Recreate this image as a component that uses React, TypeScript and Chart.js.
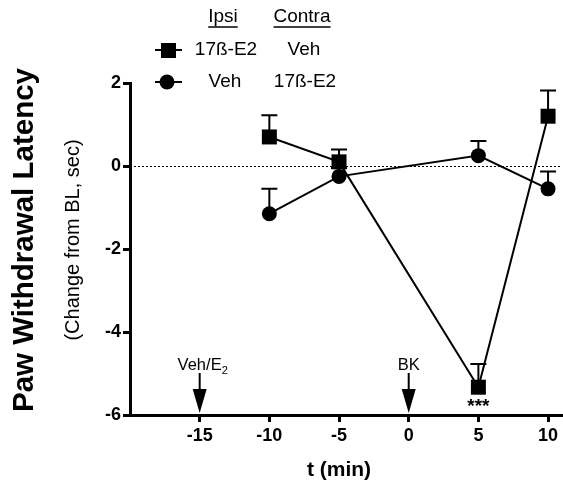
import React, { useEffect, useRef } from "react";
import { Chart, registerables } from "chart.js";

Chart.register(...registerables);

// ---- data ----
const xTickValues = [-15, -10, -5, 0, 5, 10];
const timePoints = [-10, -5, 5, 10];
const e2IpsiMean = [0.7, 0.1, -5.33, 1.2];
const e2IpsiSem = [0.52, 0.3, 0.56, 0.62];
const vehIpsiMean = [-1.15, -0.25, 0.25, -0.55];
const vehIpsiSem = [0.6, 0.2, 0.35, 0.42];
const arrowTimes = [-15, 0];
const arrowLabels = ["Veh/E", "BK"];
const arrowSubs = ["2", ""];
const sigTime = 5;
const sigLabel = "***";

const FONT = "'Liberation Sans', Arial, Helvetica, sans-serif";

const overlay = {
  id: "overlay",
  beforeDatasetsDraw(chart: any) {
    const { ctx, chartArea, scales } = chart;
    const y = scales.y;
    ctx.save();
    ctx.strokeStyle = "#000";
    // dotted zero line
    ctx.setLineDash([2, 2]);
    ctx.lineWidth = 1;
    const y0 = Math.round(y.getPixelForValue(0)) + 0.5;
    ctx.beginPath();
    ctx.moveTo(chartArea.left, y0);
    ctx.lineTo(chartArea.right, y0);
    ctx.stroke();
    ctx.setLineDash([]);
    // error bars (upward only)
    ctx.lineWidth = 2;
    chart.data.datasets.forEach((ds: any, di: number) => {
      const meta = chart.getDatasetMeta(di);
      meta.data.forEach((pt: any, i: number) => {
        const top = y.getPixelForValue(ds.data[i].y + ds.errors[i]);
        ctx.beginPath();
        ctx.moveTo(pt.x, pt.y);
        ctx.lineTo(pt.x, top);
        ctx.moveTo(pt.x - 8, top);
        ctx.lineTo(pt.x + 8, top);
        ctx.stroke();
      });
    });
    ctx.restore();
  },
  afterDraw(chart: any) {
    const { ctx, chartArea, scales } = chart;
    const x = scales.x;
    ctx.save();
    ctx.fillStyle = "#000";
    ctx.strokeStyle = "#000";

    // arrows + labels
    arrowTimes.forEach((t, i) => {
      const px = x.getPixelForValue(t);
      const tip = chartArea.bottom - 2;
      ctx.lineWidth = 2;
      ctx.beginPath();
      ctx.moveTo(px, tip - 40);
      ctx.lineTo(px, tip - 20);
      ctx.stroke();
      ctx.beginPath();
      ctx.moveTo(px - 7, tip - 24);
      ctx.lineTo(px + 7, tip - 24);
      ctx.lineTo(px, tip);
      ctx.closePath();
      ctx.fill();
      // label
      ctx.font = `16.5px ${FONT}`;
      ctx.textBaseline = "alphabetic";
      const main = arrowLabels[i];
      const sub = arrowSubs[i];
      const wMain = ctx.measureText(main).width;
      ctx.font = `11px ${FONT}`;
      const wSub = sub ? ctx.measureText(sub).width : 0;
      const total = wMain + wSub;
      const startX = px - total / 2 + (sub ? 3 : 0);
      ctx.font = `16.5px ${FONT}`;
      ctx.textAlign = "left";
      ctx.fillText(main, startX, tip - 43);
      if (sub) {
        ctx.font = `11px ${FONT}`;
        ctx.fillText(sub, startX + wMain, tip - 39);
      }
    });

    // significance
    ctx.font = `bold 19px ${FONT}`;
    ctx.textAlign = "center";
    ctx.textBaseline = "middle";
    ctx.fillText(sigLabel, x.getPixelForValue(sigTime), chartArea.bottom - 8);

    // axis titles
    ctx.font = `bold 21px ${FONT}`;
    ctx.textAlign = "center";
    ctx.textBaseline = "middle";
    ctx.fillText("t (min)", 339, 470);

    ctx.save();
    ctx.translate(25, 240);
    ctx.rotate(-Math.PI / 2);
    ctx.font = `bold 29.5px ${FONT}`;
    ctx.fillText("Paw Withdrawal Latency", 0, 0);
    ctx.restore();

    ctx.save();
    ctx.translate(73, 240);
    ctx.rotate(-Math.PI / 2);
    ctx.font = `20px ${FONT}`;
    ctx.fillText("(Change from BL, sec)", 0, 0);
    ctx.restore();

    // legend
    ctx.font = `19px ${FONT}`;
    ctx.textAlign = "center";
    ctx.textBaseline = "middle";
    const heads = [
      ["Ipsi", 223],
      ["Contra", 302],
    ] as [string, number][];
    ctx.lineWidth = 1.5;
    heads.forEach(([txt, cx]) => {
      ctx.fillText(txt, cx, 17);
      const w = ctx.measureText(txt).width;
      ctx.beginPath();
      ctx.moveTo(cx - w / 2, 27);
      ctx.lineTo(cx + w / 2, 27);
      ctx.stroke();
    });
    // row 1 : square
    ctx.lineWidth = 2;
    ctx.beginPath();
    ctx.moveTo(155, 50);
    ctx.lineTo(182, 50);
    ctx.stroke();
    ctx.fillRect(161, 43, 15, 15);
    ctx.fillText("17ß-E2", 226, 50);
    ctx.fillText("Veh", 304, 50);
    // row 2 : circle
    ctx.beginPath();
    ctx.moveTo(155, 82);
    ctx.lineTo(182, 82);
    ctx.stroke();
    ctx.beginPath();
    ctx.arc(167, 82, 7.5, 0, Math.PI * 2);
    ctx.fill();
    ctx.fillText("Veh", 225, 82);
    ctx.fillText("17ß-E2", 305, 82);

    ctx.restore();
  },
};

export default function App() {
  const ref = useRef<HTMLCanvasElement>(null);
  useEffect(() => {
    if (!ref.current) return;
    const chart = new Chart(ref.current, {
      type: "line",
      data: {
        datasets: [
          {
            label: "17ß-E2 / Veh",
            data: timePoints.map((t, i) => ({ x: t, y: e2IpsiMean[i] })),
            errors: e2IpsiSem,
            borderColor: "#000",
            backgroundColor: "#000",
            borderWidth: 2,
            pointStyle: "rect",
            pointRadius: 10.6,
            pointBorderWidth: 0,
            clip: false,
          } as any,
          {
            label: "Veh / 17ß-E2",
            data: timePoints.map((t, i) => ({ x: t, y: vehIpsiMean[i] })),
            errors: vehIpsiSem,
            borderColor: "#000",
            backgroundColor: "#000",
            borderWidth: 2,
            pointStyle: "circle",
            pointRadius: 7.5,
            pointBorderWidth: 0,
            clip: false,
          } as any,
        ],
      },
      options: {
        animation: false,
        responsive: false,
        layout: { autoPadding: false, padding: { top: 83, right: 1, bottom: 30, left: 0 } },
        plugins: { legend: { display: false }, tooltip: { enabled: false } },
        scales: {
          x: {
            type: "linear",
            min: -20,
            max: 11,
            afterBuildTicks: (s: any) => {
              s.ticks = xTickValues.map((v) => ({ value: v }));
            },
            afterFit: (s: any) => {
              s.height = 41;
              s.paddingLeft = 0;
              s.paddingRight = 0;
            },
            grid: {
              display: true,
              drawOnChartArea: false,
              drawTicks: true,
              tickLength: 7,
              color: "#000",
              lineWidth: 3,
            },
            border: { display: true, color: "#000", width: 3 },
            ticks: {
              color: "#000",
              font: { family: FONT, size: 18, weight: "bold" },
              padding: 3,
              maxRotation: 0,
              autoSkip: false,
            },
          },
          y: {
            type: "linear",
            min: -6,
            max: 2,
            afterFit: (s: any) => {
              s.width = 130;
              s.paddingTop = 0;
              s.paddingBottom = 0;
            },
            grid: {
              display: true,
              drawOnChartArea: false,
              drawTicks: true,
              tickLength: 7,
              color: "#000",
              lineWidth: 3,
            },
            border: { display: true, color: "#000", width: 3 },
            ticks: {
              stepSize: 2,
              color: "#000",
              font: { family: FONT, size: 18, weight: "bold" },
              padding: 2,
            },
          },
        },
      },
      plugins: [overlay],
    } as any);
    return () => chart.destroy();
  }, []);
  return (
    <div style={{ position: "fixed", left: 0, top: 0, width: 563, height: 486, background: "#fff" }}>
      <canvas ref={ref} width={563} height={486} style={{ width: 563, height: 486, display: "block" }} />
    </div>
  );
}
